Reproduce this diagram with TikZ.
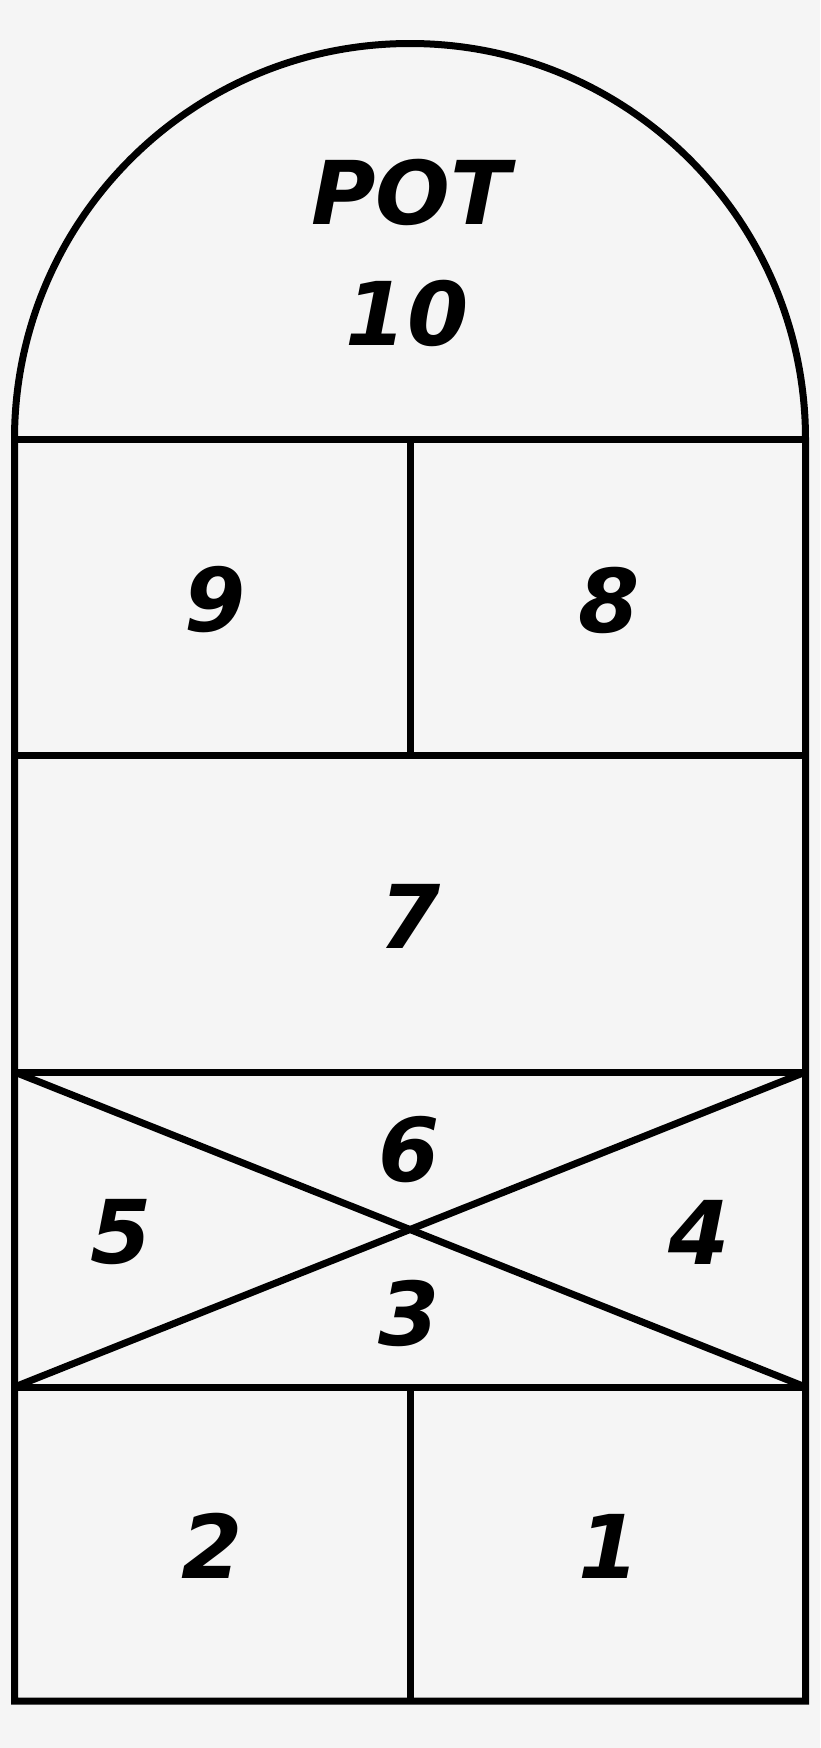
\documentclass[tikz,border=0pt]{standalone}
\usepackage{fontspec}
\setmainfont{DejaVu Sans}
\definecolor{bg}{RGB}{245,245,245}
\begin{document}
\begin{tikzpicture}[x=1pt,y=-1pt,
  line/.style={line width=7pt,black},
  num/.style={inner sep=0pt,font=\fontsize{88}{100}\selectfont\bfseries\itshape}]
\fill[bg] (0,0) rectangle (820,1748);
\useasboundingbox (0,0) rectangle (820,1748);
\coordinate (TL) at (14.5,439);
\coordinate (TR) at (805.5,439);
\coordinate (BL) at (14.5,1701);
\coordinate (BR) at (805.5,1701);
\coordinate (R1L) at (14.5,755);
\coordinate (R1R) at (805.5,755);
\coordinate (R2L) at (14.5,1072);
\coordinate (R2R) at (805.5,1072);
\coordinate (R3L) at (14.5,1387);
\coordinate (R3R) at (805.5,1387);
\coordinate (M1) at (410,439);
\coordinate (M2) at (410,755);
\coordinate (M3) at (410,1387);
\coordinate (M4) at (410,1701);
% outline
\draw[line,line join=miter] (TL) arc[start angle=180,end angle=360,radius=395.5] -- (BR) -- (BL) -- cycle;
\draw[line] (TL) -- (TR);
\draw[line] (R1L) -- (R1R);
\draw[line] (R2L) -- (R2R);
\draw[line] (R3L) -- (R3R);
\draw[line] (M1) -- (M2);
\draw[line] (M3) -- (M4);
\draw[line] (R2L) -- (R3R);
\draw[line] (R3L) -- (R2R);
% labels
\node[num] (pot) at (411,192) {POT};
\node[num] (n10) at (407,313.5) {10};
\node[num] (n9) at (215,600) {9};
\node[num] (n8) at (609.5,600) {8};
\node[num] (n7) at (410,916) {7};
\node[num] (n6) at (409,1150) {6};
\node[num] (n5) at (121.5,1232) {5};
\node[num] (n4) at (699,1232) {4};
\node[num] (n3) at (409,1313) {3};
\node[num] (n2) at (212.5,1546) {2};
\node[num] (n1) at (609.5,1546) {1};
\end{tikzpicture}
\end{document}
